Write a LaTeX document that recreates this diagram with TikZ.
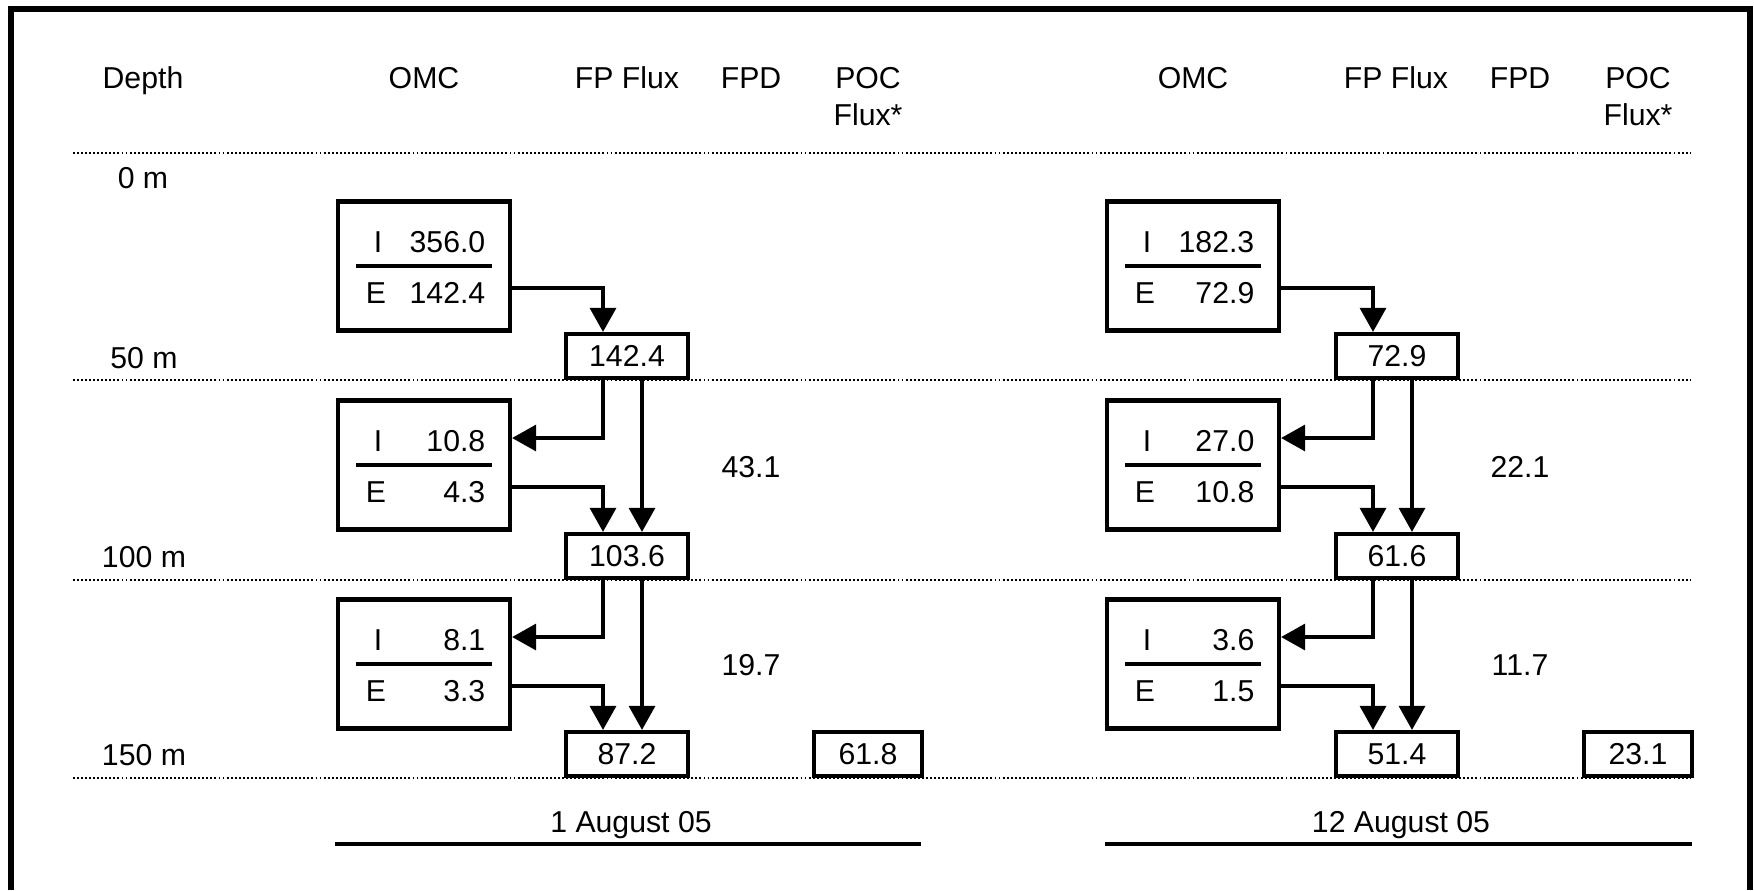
\documentclass[tikz,border=0pt]{standalone}
\usepackage{fontspec}
\setmainfont{Liberation Sans}
\usetikzlibrary{positioning,arrows.meta,calc}
\tikzset{
  lbl/.style={inner sep=0pt,text height=6.1pt,text depth=0pt},
  omcbox/.style={draw,line width=1.2pt,minimum width=17.2mm,minimum height=12.9mm,inner sep=0pt},
  fpbox/.style={lbl,draw,line width=1.2pt,minimum width=12.2mm,minimum height=4.4mm},
  pocbox/.style={fpbox,minimum width=10.8mm},
  sepline/.style={line width=1.2pt},
  flow/.style={-{Triangle[length=2.4mm,width=2.6mm]},line width=0.95pt},
  depthline/.style={line width=0.6pt,dash pattern=on 0.55pt off 0.6pt},
  dateline/.style={line width=0.9pt},
}

\begin{document}
\begin{tikzpicture}[x=0.1mm,y=-0.1mm,font=\fontsize{8.6}{10.5}\selectfont]
  \useasboundingbox (0,0) rectangle (1754,890);
  % frame (open at the bottom)
  \draw[line width=1.5pt] (11,890) -- (11,9) -- (1750,9) -- (1750,890);

  % depth levels
  \foreach \y in {153,380,580,778}
    \draw[depthline] (73,\y) -- (1691,\y);

  % headings
  \node[lbl] (hdepth) at (143,78) {Depth};
  \node[lbl] (homcA) at (424,78) {OMC};
  \node[lbl] (hfpA) at (627,78) {FP Flux};
  \node[lbl] (hfpdA) at (751,78) {FPD};
  \node[inner sep=0pt,align=center,anchor=north] (hpocA) at (868,67) {POC\\Flux*};
  \node[lbl] (homcB) at (1193,78) {OMC};
  \node[lbl] (hfpB) at (1396,78) {FP Flux};
  \node[lbl] (hfpdB) at (1520,78) {FPD};
  \node[inner sep=0pt,align=center,anchor=north] (hpocB) at (1638,67) {POC\\Flux*};

  \node[lbl] (d0) at (143,178) {0 m};
  \node[lbl] (d50) at (144,358) {50 m};
  \node[lbl] (d100) at (144,557) {100 m};
  \node[lbl] (d150) at (144,755) {150 m};

  % 1 August 05
  \node[omcbox] (omcA1) at (424,266) {};
  \node[omcbox] (omcA2) at (424,465) {};
  \node[omcbox] (omcA3) at (424,664) {};
  \node[fpbox] (fpA1) at (627,356) {142.4};
  \node[fpbox] (fpA2) at (627,556) {103.6};
  \node[fpbox] (fpA3) at (627,754) {87.2};
  \node[pocbox] (pocA) at (868,754) {61.8};
  \node[lbl] (fpdA1) at (751,467) {43.1};
  \node[lbl] (fpdA2) at (751,665) {19.7};
  \node[lbl] (dateA) at (631,822) {1 August 05};
  \draw[dateline] (335,844) -- (921,844);

  % 12 August 05
  \node[omcbox] (omcB1) at (1193,266) {};
  \node[omcbox] (omcB2) at (1193,465) {};
  \node[omcbox] (omcB3) at (1193,664) {};
  \node[fpbox] (fpB1) at (1397,356) {72.9};
  \node[fpbox] (fpB2) at (1397,556) {61.6};
  \node[fpbox] (fpB3) at (1397,754) {51.4};
  \node[pocbox] (pocB) at (1638,754) {23.1};
  \node[lbl] (fpdB1) at (1520,467) {22.1};
  \node[lbl] (fpdB2) at (1520,665) {11.7};
  \node[lbl] (dateB) at (1401,822) {12 August 05};
  \draw[dateline] (1105,844) -- (1692,844);

  % ingestion / egestion inside the OMC boxes
  \foreach \b/\iv/\ev in {A1/356.0/142.4, A2/10.8/4.3, A3/8.1/3.3,
                          B1/182.3/72.9, B2/27.0/10.8, B3/3.6/1.5} {
    \node[lbl] (i\b) at ($(omc\b)+(-46,-24)$) {I};
    \node[lbl,anchor=east] (iv\b) at ($(omc\b)+(62,-24)$) {\iv};
    \node[lbl] (e\b) at ($(omc\b)+(-48,27)$) {E};
    \node[lbl,anchor=east] (ev\b) at ($(omc\b)+(62,27)$) {\ev};
    \draw[sepline] ($(omc\b)+(-68,0)$) -- ($(omc\b)+(68,0)$);
  }

  % fluxes
  \foreach \p in {A,B} {
    \draw[flow] ($(omc\p1.east)+(0,22)$) -| ($(fp\p1.north)+(-24,0)$);
    \draw[flow] ($(fp\p1.south)+(-24,0)$) |- ($(omc\p2.east)+(0,-27)$);
    \draw[flow] ($(fp\p1.south)+(15,0)$) -- ($(fp\p2.north)+(15,0)$);
    \draw[flow] ($(omc\p2.east)+(0,22)$) -| ($(fp\p2.north)+(-24,0)$);
    \draw[flow] ($(fp\p2.south)+(-24,0)$) |- ($(omc\p3.east)+(0,-27)$);
    \draw[flow] ($(fp\p2.south)+(15,0)$) -- ($(fp\p3.north)+(15,0)$);
    \draw[flow] ($(omc\p3.east)+(0,22)$) -| ($(fp\p3.north)+(-24,0)$);
  }
\end{tikzpicture}
\end{document}
